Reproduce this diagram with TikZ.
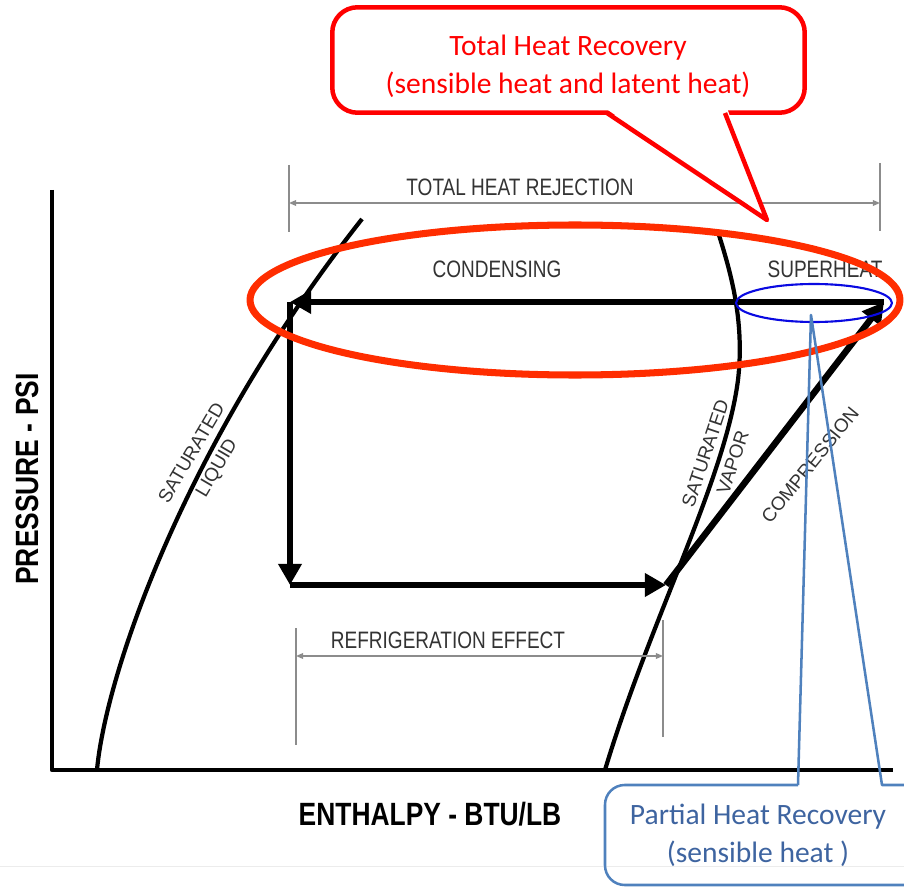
\documentclass[tikz,border=0pt]{standalone}
\usepackage{fontspec}
\setmainfont{Liberation Sans}
\newfontfamily\condfont{Liberation Sans}[FakeStretch=0.8]
\newfontfamily\axisfont{Liberation Sans}[FakeStretch=0.82]
\newfontfamily\callfont{Carlito}
\usetikzlibrary{arrows.meta, positioning}

\definecolor{ringred}{RGB}{255,45,0}
\definecolor{ringblue}{RGB}{10,10,225}
\definecolor{callred}{RGB}{255,0,0}
\definecolor{callblue}{RGB}{79,129,189}
\definecolor{calltext}{RGB}{62,100,160}
\definecolor{dimgray}{RGB}{140,140,140}

\begin{document}
\begin{tikzpicture}[x=0.025cm, y=-0.025cm, >=Stealth, line join=round]
        % Estilos de lineas y textos
        \tikzstyle{curve} = [line width=3pt]
        \tikzstyle{flow} = [line width=4.6pt, -{Triangle[length=15pt, width=16pt]}]
        \tikzstyle{dimline} = [draw=dimgray, line width=0.9pt]
        \tikzstyle{dimarrow} = [dimline, {Triangle[length=5pt, width=4pt]}-{Triangle[length=5pt, width=4pt]}]
        \tikzstyle{phase} = [font=\condfont\fontsize{16.9pt}{19pt}\selectfont, text=black!80, inner sep=0pt]
        \tikzstyle{curvelabel} = [font=\fontsize{13.5pt}{20.5pt}\selectfont, text=black!80, align=center, inner sep=0pt]
        \tikzstyle{axislabel} = [font=\axisfont\bfseries\fontsize{22.9pt}{26pt}\selectfont, inner sep=0pt]
        \tikzstyle{callbox} = [draw=callred, line width=3.2pt, fill=white, rounded corners=18pt, minimum width=336pt, minimum height=75pt, inner sep=0pt]
        \tikzstyle{calltxt} = [font=\callfont\fontsize{21pt}{27pt}\selectfont, align=center, inner sep=0pt]

        \useasboundingbox (0,0) rectangle (904,887);

        % Coordinates
        \coordinate (sepL) at (0,866);
        \coordinate (sepR) at (904,866);
        \coordinate (axisTop) at (52,190);
        \coordinate (origin) at (52,770);
        \coordinate (axisEnd) at (893,770);
        \coordinate (liqBot) at (97,770);
        \coordinate (liqTop) at (362,219);
        \coordinate (vapBot) at (605,770);
        \coordinate (vapMid) at (738,380);
        \coordinate (vapTop) at (718,232);
        \coordinate (condL) at (290,302);
        \coordinate (condR) at (884,302);
        \coordinate (evapL) at (290,585);
        \coordinate (evapR) at (666,585);
        \coordinate (thrL) at (289,203);
        \coordinate (thrR) at (880,203);
        \coordinate (refL) at (296,656);
        \coordinate (refR) at (663,656);

        % Lines
        \draw [gray!15, line width=0.7pt] (sepL) -- (sepR);
        \draw [curve] (axisTop) -- (origin) -- (axisEnd);
        \draw [curve] (liqBot) .. controls (105,680) and (180,450) .. (liqTop);
        \draw [curve] (vapBot) .. controls (650,620) and (725,480) .. (vapMid)
                     .. controls (745,320) and (730,270) .. (vapTop);
        \draw [flow] (condR) -- (condL);
        \draw [flow] (condL) -- (evapL);
        \draw [flow] (evapL) -- (evapR);
        \draw [flow] (evapR) -- (condR);

        % Dimensions
        \draw [dimline] (289,165) -- (289,232);
        \draw [dimline] (880,163) -- (880,231);
        \draw [dimarrow] (thrL) -- (thrR);
        \draw [dimline] (296,628) -- (296,745);
        \draw [dimline] (663,620) -- (663,737);
        \draw [dimarrow] (refL) -- (refR);

        % Labels
        \node [phase] (thrLabel) at (520,187) {TOTAL HEAT REJECTION};
        \node [phase] (condLabel) at (497,269) {CONDENSING};
        \node [phase] (superLabel) at (825,269) {SUPERHEAT};
        \node [phase] (refLabel) at (448,640) {REFRIGERATION EFFECT};
        \node [curvelabel, rotate=59.5] (liqLabel) at (205,461) {SATURATED\\LIQUID};
        \node [curvelabel, rotate=71.5] (vapLabel) at (719,458) {SATURATED\\VAPOR};
        \node [curvelabel, rotate=51] (compLabel) at (810,465) {COMPRESSION};
        \node [axislabel, rotate=90] (presLabel) at (27,479) {PRESSURE - PSI};
        \node [axislabel] (enthLabel) at (430,814) {ENTHALPY - BTU/LB};

        % Rings
        \draw [ringred, line width=5pt] (575,300) ellipse [x radius=325, y radius=75];
        \draw [ringblue, line width=1.5pt] (814,303) ellipse [x radius=78, y radius=19];

        % Partial heat recovery callout
        \coordinate (prTip) at (811,315);
        \coordinate (prBaseL) at (798,785);
        \coordinate (prBaseR) at (882,785);
        \draw [callblue, line width=1.8pt, rounded corners=14pt] (prBaseL) -- (605,785) -- (605,885) -- (960,885);
        \draw [callblue, line width=1.8pt] (prBaseL) -- (prTip) -- (prBaseR) -- (960,785);
        \node [calltxt, text=calltext] (prText) at (758,835) {Partial Heat Recovery\\(sensible heat )};

        % Total heat recovery callout
        \node [callbox] (trBox) at (568.5,60) {};
        \coordinate (trTip) at (767,220);
        \coordinate (trBaseL) at (607,113);
        \coordinate (trBaseR) at (725,113);
        \fill [white] (605,108) -- (727,108) -- (trTip) -- cycle;
        \draw [callred, line width=3.2pt] (trBaseL) -- (trTip) -- (trBaseR);
        \node [calltxt, text=callred] (trText) at (568,66) {Total Heat Recovery\\(sensible heat and latent heat)};
\end{tikzpicture}
\end{document}
